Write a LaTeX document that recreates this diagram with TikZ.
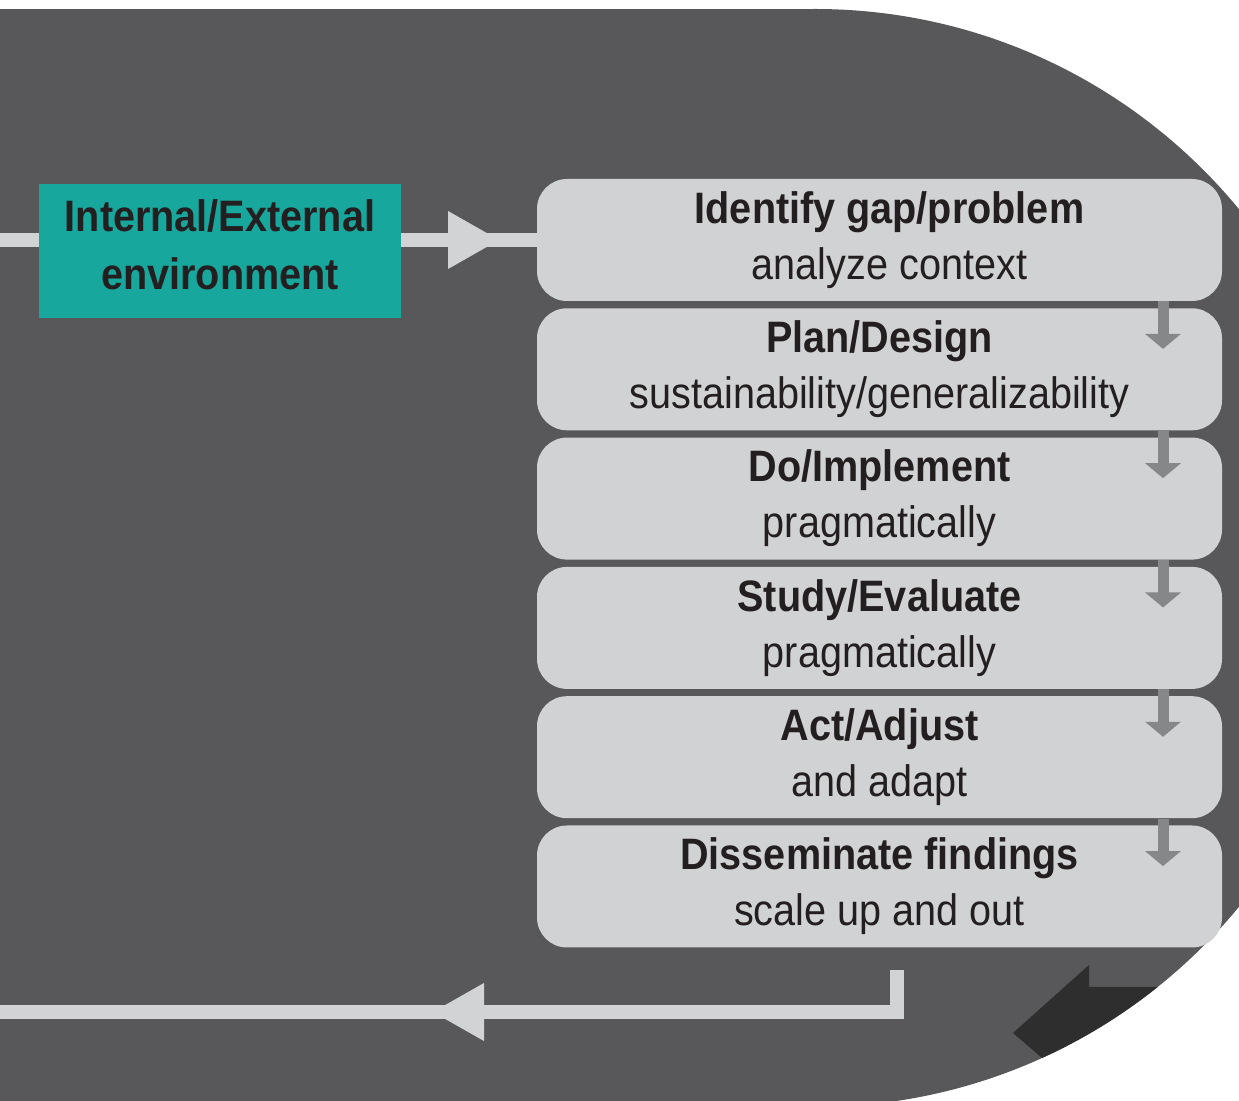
\documentclass[tikz,border=0pt]{standalone}
\usepackage{fontspec}
\setmainfont{Liberation Sans}[FakeStretch=0.9]
\usetikzlibrary{arrows.meta,positioning}

\definecolor{panelgray}{HTML}{58585A}
\definecolor{boxgray}{HTML}{D1D2D4}
\definecolor{flowgray}{HTML}{D2D3D5}
\definecolor{arrowgray}{HTML}{868789}
\definecolor{darkarrow}{HTML}{2F2E2F}
\definecolor{envteal}{HTML}{17A79D}
\definecolor{textdark}{HTML}{231F20}

\begin{document}
\begin{tikzpicture}[x=0.5pt,y=-0.5pt,node distance=3.25pt,
  stage node/.style={rounded corners=15pt,fill=boxgray,minimum width=342.5pt,
    minimum height=61pt,inner sep=0pt,align=center,text=textdark,
    font=\fontsize{22}{28}\selectfont},
  env node/.style={fill=envteal,minimum width=181pt,minimum height=67pt,
    inner sep=0pt,align=center,text=textdark,font=\fontsize{22}{29}\selectfont\bfseries},
  flow/.style={draw=flowgray,line width=7pt},
  flow tip/.style={-{Triangle[length=26pt,width=27pt]}},
  stage arrow/.style={draw=arrowgray,fill=arrowgray,line width=5.5pt,
    -{Triangle[length=7.5pt,width=17.5pt]}}]

  \useasboundingbox (0,0) rectangle (1239,1101);
  \clip (0,0) rectangle (1239,1101);
  \fill[white] (0,0) rectangle (1239,1101);

  % background panel
  \fill[panelgray] (0,9) rectangle (815,1101);
  \fill[panelgray] (815,558) circle[radius=274.5pt];
  \begin{scope}
    \clip (815,558) circle[radius=274.5pt];
    \fill[darkarrow] (1013,1033) -- (1089,965) -- (1089,987) -- (1300,987)
      -- (1300,1150) -- (1149,1150) -- cycle;
  \end{scope}

  % stages
  \node[stage node] (s1) at (879.5,240) {\hspace*{10pt}\textbf{Identify gap/problem}\\\hspace*{10pt}analyze context};
  \node[stage node] (s2) [below=of s1] {\textbf{Plan/Design}\\sustainability/generalizability};
  \node[stage node] (s3) [below=of s2] {\textbf{Do/Implement}\\pragmatically};
  \node[stage node] (s4) [below=of s3] {\textbf{Study/Evaluate}\\pragmatically};
  \node[stage node] (s5) [below=of s4] {\textbf{Act/Adjust}\\and adapt};
  \node[stage node] (s6) [below=of s5] {\textbf{Disseminate findings}\\scale up and out};

  \coordinate (in) at (0,240);
  \coordinate (tip1) at (500,240);
  \coordinate (out) at ([xshift=8.75pt,yshift=-11.25pt]s6.south);
  \coordinate (back) at (0,1012);
  \coordinate (tip2) at (432,1012);

  \draw[flow] (in) -- (s1.west);
  \node[env node] (env) at (220,251) {Internal/External\\environment\rule[-6pt]{0pt}{6pt}};
  \draw[flow,flow tip] (env.east |- in) -- (tip1);

  \draw[flow] (out) |- (back);
  \draw[flow,flow tip] (out) |- (tip2);

  % small arrows between stages
  \draw[stage arrow] ([xshift=141.75pt]s1.south) -- ([xshift=141.75pt,yshift=-20.5pt]s2.north);
  \draw[stage arrow] ([xshift=141.75pt]s2.south) -- ([xshift=141.75pt,yshift=-20.5pt]s3.north);
  \draw[stage arrow] ([xshift=141.75pt]s3.south) -- ([xshift=141.75pt,yshift=-20.5pt]s4.north);
  \draw[stage arrow] ([xshift=141.75pt]s4.south) -- ([xshift=141.75pt,yshift=-20.5pt]s5.north);
  \draw[stage arrow] ([xshift=141.75pt]s5.south) -- ([xshift=141.75pt,yshift=-20.5pt]s6.north);
\end{tikzpicture}
\end{document}
